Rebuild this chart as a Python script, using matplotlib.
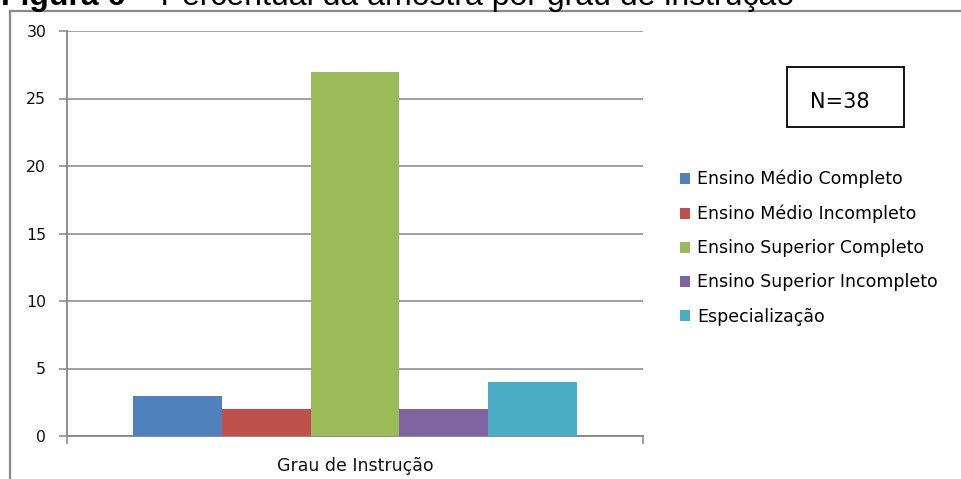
import matplotlib
matplotlib.use("Agg")
import matplotlib.pyplot as plt
from matplotlib.patches import Rectangle, Patch
from matplotlib.lines import Line2D

# data
categories = ["Ensino Médio Completo", "Ensino Médio Incompleto",
              "Ensino Superior Completo", "Ensino Superior Incompleto",
              "Especialização"]
values = [3, 2, 27, 2, 4]
colors = ["#4F81BD", "#C0504D", "#9BBB59", "#8064A2", "#4BACC6"]
group_label = "Grau de Instrução"
yticks = [0, 5, 10, 15, 20, 25, 30]

W, H = 961, 479
fig = plt.figure(figsize=(W / 100, H / 100), dpi=100)

def fx(px):
    return px / W

def fy(py):
    return 1 - py / H

grid_c = "#868686"

ax = fig.add_axes([fx(67), fy(436), fx(643) - fx(67), fy(31) - fy(436)])
pos = [i - 2 for i in range(len(values))]
for p, v, c, lab in zip(pos, values, colors, categories):
    ax.bar(p, v, width=1.0, color=c, label=lab, zorder=3)

ax.set_xlim(-3.25, 3.25)
ax.set_ylim(0, 30)
ax.set_yticks(yticks)
ax.set_yticklabels([str(t) for t in yticks], fontsize=11.3, color="#111111")
ax.grid(axis="y", color=grid_c, lw=1.1, zorder=0)
ax.set_xticks([0])
ax.set_xticklabels([group_label], fontsize=12.5, color="#111111")
ax.set_xticks([-3.25, 3.25], minor=True)
ax.tick_params(axis="x", which="major", length=0, pad=15)
ax.tick_params(axis="x", which="minor", length=6, color=grid_c, width=1.1, direction="out")
ax.tick_params(axis="y", length=6, color=grid_c, width=1.1, pad=9)
for s in ["top", "right"]:
    ax.spines[s].set_visible(False)
for s in ["left", "bottom"]:
    ax.spines[s].set_color(grid_c)
    ax.spines[s].set_linewidth(1.3)

handles = [Patch(facecolor=c, edgecolor="none") for c in colors]
fig.legend(handles, categories, loc="upper left",
           bbox_to_anchor=(fx(680), fy(170)), frameon=False, fontsize=12.5,
           handlelength=0.6, handleheight=0.6, handletextpad=0.4,
           labelspacing=0.93, borderpad=0, borderaxespad=0)

# N box
fig.patches.append(Rectangle((fx(787), fy(127)), fx(904) - fx(787), fy(67) - fy(127),
                             transform=fig.transFigure, fill=False,
                             edgecolor="black", lw=1.3))
fig.text(fx(840), fy(102), "N=38", fontsize=15, ha="center", va="center")

# outer chart frame
fig.add_artist(Line2D([fx(10), fx(10)], [fy(11), 0], transform=fig.transFigure,
                      color="#8a8a8a", lw=1.6))
fig.add_artist(Line2D([fx(10), 1], [fy(11), fy(11)], transform=fig.transFigure,
                      color="#8a8a8a", lw=1.6))

# caption, cut off at the top edge as in the source
t1 = fig.text(fx(1), fy(5), "Figura 6", fontsize=23, fontweight="bold",
              family="Liberation Sans", va="baseline", ha="left")
fig.canvas.draw()
ext = t1.get_window_extent()
fig.text(ext.x1 / W, fy(5), " – Percentual da amostra por grau de instrução",
         fontsize=23, family="Liberation Sans", va="baseline", ha="left")

fig.savefig("out.png", dpi=100)
